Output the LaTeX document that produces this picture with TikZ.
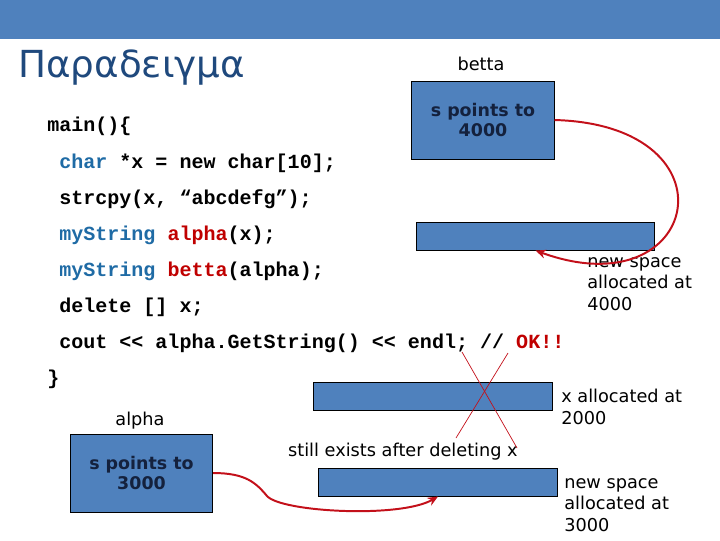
\documentclass[tikz,border=0pt]{standalone}
\usepackage{fontspec}
\setmainfont{DejaVu Sans}
\setmonofont{Liberation Mono}
\usetikzlibrary{positioning, arrows.meta}
\definecolor{barblue}{HTML}{4F81BD}
\definecolor{titleblue}{HTML}{1F497D}
\definecolor{codeblue}{HTML}{1F6BA5}
\definecolor{codered}{HTML}{C00000}
\definecolor{boxtext}{HTML}{14213D}
\definecolor{linkred}{HTML}{C3101A}
\tikzset{
	codetext/.style={font=\ttfamily\bfseries\fontsize{14.25}{17}\selectfont, anchor=base west, inner sep=0pt}
}
\tikzset{
	labeltext/.style={font=\fontsize{12.6}{15}\selectfont, align=left, inner sep=0pt}
}

\begin{document}
\begin{tikzpicture}[x=0.025cm, y=-0.025cm]
	\tikzset{
		memblock/.style={
				draw=black,
				line width=0.7pt,
				fill=barblue,
				inner sep=0pt
			},
		ptrblock/.style={
				memblock,
				minimum width=3.55cm,
				minimum height=1.95cm,
				align=center,
				text=boxtext,
				font=\bfseries\fontsize{12.4}{14}\selectfont
			},
		charblock/.style={
				memblock,
				minimum width=5.95cm,
				minimum height=0.7cm
			},
		pointer/.style={
				draw=linkred,
				line width=1.4pt,
				-{Stealth[length=2.6mm, width=2.2mm]}
			}
	}

	\useasboundingbox (0,0) rectangle (720,540);
	\fill[barblue] (0,0) rectangle (720,39);

	\node[anchor=base west, inner sep=0pt, text=titleblue, font=\fontsize{26.5}{30}\selectfont] (title) at (18,77) {Παραδειγμα};

	\node[codetext] (c0) at (47,131.5) {main()\{};
	\node[codetext] (c1) at (59,168) {\textcolor{codeblue}{char} *x = new char[10];};
	\node[codetext] (c2) at (59,204) {strcpy(x, “abcdefg”);};
	\node[codetext] (c3) at (59,240) {\textcolor{codeblue}{myString} \textcolor{codered}{alpha}(x);};
	\node[codetext] (c4) at (59,276) {\textcolor{codeblue}{myString} \textcolor{codered}{betta}(alpha);};
	\node[codetext] (c5) at (59,312) {delete [] x;};
	\node[codetext] (c6) at (59,348) {cout << alpha.GetString() << endl; // \textcolor{codered}{OK!!}};
	\node[codetext] (c7) at (47,384) {\}};

	\node[ptrblock] (bettabox) at (483,120) {s points to\\4000};
	\node[labeltext, anchor=base] (bettaname) at (481,70) {betta};
	\node[charblock] (bettamem) at (535.5,236) {};
	\node[labeltext, anchor=base west] (bettanote) at (587,310) {new space\\allocated at\\4000};

	\node[charblock] (xmem) at (433,396.5) {};
	\node[labeltext, anchor=base west] (xnote) at (561,424) {x allocated at\\2000};
	\node[labeltext, anchor=base east] (keepnote) at (518,456.5) {still exists after deleting x};

	\node[ptrblock] (alphabox) at (141.5,473) {s points to\\3000};
	\node[labeltext, anchor=base] (alphaname) at (140,425) {alpha};
	\node[charblock] (alphamem) at (438,482) {};
	\node[labeltext, anchor=base west] (alphanote) at (564,531) {new space\\allocated at\\3000};

	\coordinate (crossa) at (462,352);
	\coordinate (crossb) at (517,448);
	\coordinate (crossc) at (508,353);
	\coordinate (crossd) at (456,438);
	\draw[linkred, line width=0.5pt] (crossa) -- (crossb);
	\draw[linkred, line width=0.5pt] (crossc) -- (crossd);

	\draw[pointer] (bettabox.east) .. controls +(186,5) and +(165,60) .. (bettamem.south);
	\draw[pointer] (alphabox.east) .. controls +(33,0) and +(-11,-13) .. ++(54,23) .. controls +(14,16) and +(-38,22) .. (alphamem.south);
\end{tikzpicture}
\end{document}
